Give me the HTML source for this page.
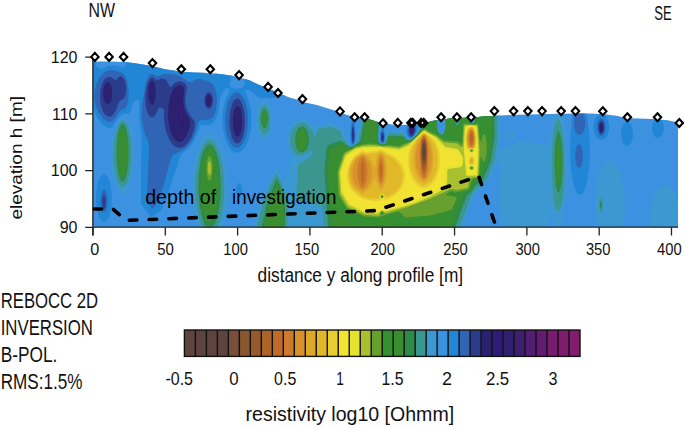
<!DOCTYPE html>
<html><head><meta charset="utf-8"><style>
html,body{margin:0;padding:0;background:#fff;}
body{width:685px;height:428px;overflow:hidden;}
svg{display:block;font-family:"Liberation Sans",sans-serif;}
</style></head><body>
<svg width="685" height="428" viewBox="0 0 685 428">
<rect width="685" height="428" fill="#fff"/>
<defs><clipPath id="pc"><path d="M93,61.4 L93.0,61.4 L110.0,61.4 L125.0,62.0 L135.0,63.2 L152.0,66.1 L165.0,69.2 L175.0,70.8 L182.0,71.8 L193.0,72.5 L210.0,73.1 L222.0,74.3 L234.0,76.0 L245.0,78.9 L250.0,80.5 L260.0,85.3 L273.0,90.4 L283.0,95.0 L291.0,98.1 L297.0,99.6 L305.0,102.4 L317.0,104.9 L328.0,108.4 L338.0,111.4 L347.0,114.9 L359.0,117.8 L370.0,119.5 L380.0,122.8 L386.0,123.8 L397.0,125.0 L420.0,124.5 L432.0,121.0 L450.0,118.4 L471.0,117.5 L485.0,116.6 L500.0,115.4 L518.0,114.8 L561.0,113.7 L590.0,113.6 L603.0,114.0 L618.0,116.1 L627.0,118.2 L638.0,118.6 L652.0,118.9 L668.0,120.3 L678.0,122.5 L678,227.3 L93,227.3 Z"/></clipPath></defs><g clip-path="url(#pc)"><rect x="88" y="52" width="594" height="180" fill="#3c92e0"/><path fill="#2286d6" d="M88 52L300 52L300 92L285 96L276 97.6L271 98.2L265 97.8L262 98.3L259 97.6L256.1 96L250 90.1L247 90L245 90.8L244.9 92L247.7 98L249.1 102L250.7 109L251.5 119L251 129L249.1 138L247.7 142L245.7 146L242 150.7L239 152.5L237 152.8L235 152.5L233 151.6L231 149.9L228.8 147L225.5 140L223.3 131L222.5 125L222.3 119L223.3 108L225.7 99L230 90L229 88.7L226 88.1L222 93.5L220 97.4L218.4 111L217.4 115L215.2 120L213 122.9L210 124.8L207 125.4L202 124.8L201 125L200 126L196.7 135L192.6 143L188.7 148L182 153.6L180.3 156L169 190L161 211L151 217L141 204L141 175L141.6 140L141.3 134L138.9 116L139.4 101L139 100.3L136 100.4L134 101.4L133 103L131.1 110L129.4 113L128 113.8L123 114.2L121 115.2L118.4 118L113 125.7L111 127.7L109 128.2L107 127.7L105 126.6L102 124.2L98.6 120L95.8 115L93.6 109L91.9 102L91 100.9L88 100.1ZM105 55L102 55.9L99 57.6L97.4 59L96.1 61L95.6 63L96.1 65L97.5 67L99 68.2L102 68.9L108 66.1L112 65.3L116 65.7L122 67.5L124 66.9L125.8 65L126.3 63L125.4 60L123.5 58L121 56.4L118 55.3L114 54.5L109 54.4ZM178 66.6L176.1 68L175.6 69L176 70.4L178 71.8L181 72.9L183 73.2L185 72.7L186.7 71L186.8 69L184.9 67L181 66ZM207 68.6L205 69.9L204.4 71L204.6 73L206 74.1L208.9 75L212 75.3L214 74.8L215.8 73L215.8 71L213.9 69L210 68ZM236 73.9L233 74.9L230.8 77L230.6 78L231.1 80L229.5 83L229.4 85L231 87.4L233 88.3L237 88.7L241 88.1L243 87L244.5 85L244.7 84L244 81L245.2 79L245.2 77L244 75.6L242 74.5L239 73.8ZM579 104L581 104.1L583 105.7L585.4 110L586.7 114L587.7 119L589.1 131L590 148L589.3 166L587.2 181L586 186L584 191.2L582 194.1L580 195L578 194.1L576 191.2L574.3 187L573 182.1L571 169L570.1 152L570.5 136L571.5 122L572.3 116L573.4 112L575 108.2L577 105.3ZM600.3 114L602 113.9L604 114.7L606.4 117L608.4 121L609.3 126L608.9 131L607.1 136L605.6 138L604 139.3L601 140.1L598 138.9L595.5 136L593.9 132L593.3 128L593.7 123L595 119L597 116L599 114.4ZM352.6 118L353 117.4L354 119L354.7 122L355.5 129L355.6 137L355.4 140L354.6 143L353 145L352 145L351.3 144L350.6 141L350.4 132L351.3 122L352 118.9ZM655.4 119L658 118L660 118.6L662.3 121L663.7 125L664 129L663.2 133L661.6 136L659 137.9L657 137.9L655 136.7L653.2 134L652.3 131L652 128L652.5 124L653.7 121ZM410.9 121L412 120.8L414 121.7L417 126.1L419.3 124L421 123.7L422.1 124L422.9 125L423 126L422.5 127L421 128.1L419 128.1L418 127.5L417.5 128L416.6 132L414.8 135L412 137.8L410 138.4L408.9 138L407.3 136L406.3 133L406.2 130L406.4 128L407.4 125L409 122.5ZM624.6 123L627 122L629 122.7L630 123.6L632 127.4L632.9 132L632.8 137L631.5 142L629.4 145L627 146L625 145.3L623 142.9L621.8 140L621.1 136L621.1 132L621.8 128L623 125.1ZM381.6 129L382 128.3L383 128.1L383.7 129L384.9 134L384.7 141L384 142.6L383 143.3L382 143.2L381 142.4L380.1 140L380.3 133ZM101.8 175L103 174.2L105 174.2L107 175.9L108 177.6L109.4 181L110.7 186L111.9 196L111.5 206L110 213.9L108.4 218L107 220.3L106 221.3L104 222.1L102 221.3L101 220.3L98.7 216L96.9 209L96.1 201L96.2 193L97.3 185L99 179.3L100 177.2ZM237.5 184L239 183L240 183.4L241.1 185L241.9 188L242 191L241.4 194L240 196.6L239 197L238 196.6L237 195.2L236.1 192L236.3 187Z"/><path fill="#3064b4" d="M107.2 71L111 70.2L114 70.5L121 72.4L123 73.6L125.5 77L126.7 80L127.7 84L128.6 91L128.6 96L128.1 101L127.1 105L126 107.3L125 108.4L122 109.7L120 111L114 119.7L112 121.3L110 121.8L107 121.2L104 119.4L101.6 117L99 113.3L96 105.9L95 101.4L94.5 97L94.7 92L95.3 88L96.4 84L98 80.2L99.9 77L102.3 74L104.9 72ZM150.9 74L153 73.9L156 76.1L157 76.4L164 74.3L170 74L174 74.4L178 75.5L182 77.2L189 82.1L191 81.9L196 79.4L199 79L202 79.4L210 81.7L213 84.3L215 88.2L216.5 94L216.9 100L216 109.6L215 113.1L213 117L212 118.1L210 119.4L204 119.8L200 120.6L199 121.2L198 123L196.3 130L194.5 135L192.1 140L189.5 144L187 146.8L184 149.2L179 152.2L174 154L172 155.8L170.5 160L164 184L158 203L152 209L147 199L149 150L148.9 145L148 141.1L144.9 134L143.4 129L142 121L141.5 114L142 105.7L145.5 84L147.5 78L149 75.6ZM234.7 93L237 92.6L239 93.1L241 94.7L243.4 98L245.2 102L246.4 106L247.4 111L247.9 117L247.5 128L246.4 134L245.3 138L243.6 142L241.6 145L239 147.3L237 147.8L235 147.5L233 146.2L231 143.9L229 140.4L227 134.9L226 130.4L225.2 122L225.8 111L227.6 103L229 99.5L231 96.1L233 94ZM578.4 110L580 109.7L581 110.1L583 112.3L584.4 116L585.3 121L585.1 126L584 130.5L582 133.8L580 135L578 134.6L576 132.5L574.6 129L573.9 125L574 119.2L574.9 115L576.3 112ZM599.7 119L601 118.3L602 118.4L603 119.1L604.8 122L605.6 126L605.4 130L604.5 133L603 135.4L601 136.1L600 135.7L598.5 134L597.4 131L597.1 129L597.5 123L598.2 121ZM352.7 123L353 122.4L354.1 125L354.8 134L354.5 141L354 142.9L353 144.1L352 143.6L351.8 143L351.2 136L351.6 127L352 124.5ZM410.3 123L412 122.3L414 123.3L415.6 126L416.2 129L415.8 132L414.8 134L413 136.3L411 137.4L410 137.2L408.7 136L407.9 134L407.5 131L408.3 126ZM419.5 125L421 124.6L421.6 125L421.6 126L421 126.8L419.8 127L419 126ZM381.7 131L382 130.5L383 130.5L384.4 135L384.4 140L384 141.6L383 142.7L382 142.6L381.4 142L380.7 140L380.6 135ZM579 144L580 144.4L581 145.6L582 148.1L582.7 152L583 156L582.7 160L582 163.9L581 166.4L580 167.6L579 168L578 167.6L577 166.4L576 163.9L575 156L575.3 152L576 148.1L577 145.6L578 144.4ZM103.5 190L104 189.8L105 190.3L106.1 192L107.2 196L107.5 200L107.3 205L106.5 209L105 212L104 212.6L103 212L101.5 209L100.5 202L100.6 198L101.3 194L102 191.8Z"/><path fill="#2c3c8c" d="M108.1 77L111 77.2L115 80.1L116 80.3L119 76.7L120 76.3L122 76.7L124 78.9L125 81L126 85.2L126.2 88L125.9 93L125.1 96L124.1 98L123 99.3L120 100.6L119 101.7L116.1 110L113 114.8L111 116.4L109 116.7L106 115.4L104 113.2L102.8 111L100.8 105L100 98L100.5 90L102.1 84L103.5 81L105 79L107 77.4ZM150.5 78L152 77.3L153 77.6L156 80.1L157 80.4L161 78.5L164 78.7L165.9 80L167 81.3L170 87.1L171 86.9L174 83.8L176 82.3L179 81.3L181 81.5L183 82.2L185 83.6L186.2 85L186.7 88L185.1 100L186 106.9L188.1 112L192 118.3L194.5 121L195.1 124L194 130.2L191 138.1L187 144L183 147L181 147.7L179 147.9L176 147.1L174 145.7L172 143.7L169 139L166.6 133L164.9 126L164.1 119L163.9 110L163 108.4L160 107.8L158.8 108L158 108.9L155.3 115L153 117.3L151 117.3L150 116.7L148 113.8L146.9 111L145.7 106L145.3 97L146 90.7L147.1 85L148.5 81ZM207 93L208 92.3L210 92.6L211.9 95L212.8 98L212.9 102L212.3 105L211 107.4L209 108.7L208 108.6L206.1 107L205.1 105L204.4 102L204.8 97L205.5 95ZM235.6 99L237 98.5L239 99.1L240.7 101L242 103.3L244.2 111L245 119L244.6 128L243 135.9L241.8 139L240 141.9L238.5 143L237 143.3L235.8 143L234 141.4L231.7 137L230 129.6L229.4 123L229.7 115L230.8 108L233 102L234 100.5ZM600.4 121L601 120.7L602 120.8L603 121.8L603.9 124L604.3 127L604.1 130L603.5 132L602 134L601 134.1L600 133.5L599.1 132L598.3 128L598.7 124L599.5 122ZM410.6 124L412 123.4L413.4 124L414.7 126L415.3 129L415.1 131L414 134L412.1 136L411 136.2L409.6 135L408.6 131L409 127ZM353 126L354 129L354.3 135L354 140.5L353 142.7L352 140.7L351.7 135L352 129ZM381.8 133L382 132.5L383 132.5L383.9 136L383.9 139L383 141.8L382 141.7L381.1 139L381.1 136ZM103.2 196L104 195.1L105 196.2L105.8 200L105.5 206L105 207.6L104 208.7L103 207.6L102.3 204L102.3 199Z"/><path fill="#2c2070" d="M151.2 81L152 80.7L153 81L154 82.3L155.2 86L155.7 91L155.6 96L155 100L154 103.1L153 104.5L152 105L151 104.5L149.6 102L148.8 99L148.3 94L148.4 90L149 85.4L150 82.5ZM106 83L108 82.2L110 83.5L111.2 86L112.2 91L112.1 96L111.2 100L110 102.5L108 104L107 103.9L106 103.2L105 101.9L103.8 99L103.3 96L103.2 92L103.7 88L104.7 85ZM177 86L179 85.3L181 85.5L183 86.8L183.8 88L184.1 90L183.1 99L184 107.4L185.3 112L189.1 118L190.2 121L190.1 124L189.4 128L187 135.1L184 139.7L182 141.3L180 141.9L178 141.7L176 140.6L174 138.5L172 135L169.6 128L168.7 123L168.1 117L168.3 107L169.9 98L171 94.4L173 90.2L175 87.6ZM207.4 95L209 94.4L210 94.9L211 96.4L211.6 99L211.6 102L211 104.6L210 106.1L209 106.6L208 106.5L207 105.6L205.9 103L205.9 98ZM237 106L238 105.9L239 106.5L240.5 109L241.6 113L242.3 119L242.3 125L241.3 131L240 134.6L239 136.1L238 136.7L237 136.6L236 135.9L234.9 134L233.6 130L232.8 123L232.9 118L233.8 112L235 108.3L236 106.7ZM600.9 123L602 123.1L603 124.9L603.2 127L603 130L602 131.8L601 132.1L600 131L599.4 128L600 124ZM411.7 125L413 125.4L413.9 127L414.2 130L414 131.3L413 133.3L412 134.2L411 134.2L410 132.8L409.7 129L410 127L411 125.4ZM353 131L353.4 135L353 139.1L352.6 135ZM382 136L382 135.7L383 135.7L383 139.6L382 139.4Z"/><path fill="#2c1e78" d="M180.6 99L181 98.7L182.2 102L183.5 114L183.4 119L182.7 124L182 126.7L181 127.9L180 126.7L179.3 124L178.4 114L178.5 108L179.2 103L179.9 100Z"/><path fill="#301e70" d="M180.7 103L181 102.5L182 105.2L182.7 113L182.2 121L181 124L179.8 121L179.3 114L179.6 106L180 104.1Z"/><path fill="#3e1e6e" d="M180.9 107L181 106.7L182 111L182.1 113L182 116.3L181 120.1L180 116.5L179.9 114L180 109.8Z"/><path fill="#3c98d0" d="M262 102L265 101.2L267 101.8L268.5 103L270.2 106L271.3 109L272.5 116L272.5 124L271.3 131L270.2 134L268.6 137L267 138.7L265 139.7L263 139.4L262 138.7L259.8 136L257.5 130L256.5 124L256.4 117L257.5 110L259.3 105L260.7 103ZM495.7 103L499 103.2L499.8 104L500.1 105L500.1 140L499.6 146L500 148.3L501 148.8L505 147.6L510 145.2L513 143.2L516 142.3L520 140.5L545 144.9L548 144.7L549 143.7L549.4 142L551.6 123L554.1 111L555.7 107L557 105.3L558 105L559 105.3L560.3 107L561.9 111L563.2 116L565.4 131L566.6 150L566.9 174L566.3 191L564.4 209L562 220.7L560.8 224L559 226.7L558 227.1L557 226.8L555 224.1L552.5 217L551 211L550 209.3L549.6 227L549 227.6L501 227.5L500.4 227L499.6 168L499 161.8L498 160.9L495 166.2L488.9 181L475 193.5L463 225.8L461.2 232L252.3 232L260.6 199L275 168.7L276 168.3L277.3 169L283 179.8L284 181.1L285 180.9L287 175.1L292.2 156L289.6 150L288.3 145L287.9 140L288.5 134L289.6 130L291.6 126L294 123L297 120.7L301 119.4L305 119.8L308 121.3L313 126.1L314 126.4L330 123L343 128.4L344.1 130L344.6 135L345.2 137L349 142L350.7 145L352 145.8L353 145.6L355.5 143L357.3 139L358.7 126L362 109L363 107.9L367 106.6L377 106.6L380 107.7L381.1 109L381.4 110L381.7 123L379.6 132L379.2 137L379.4 140L380.1 142L381 143.1L383 143.7L384.4 143L385.4 141L386 132.2L387 130.8L402 131L403 131.4L404 132.4L406.4 137L408.5 139L411 139L413.7 137L416.9 133L419 129.1L422.2 128L423.1 127L423.4 126L423 124.3L422 123.5L420 123.2L418 123.8L417 123.1L415.4 120L415.4 117L417.6 110L418.9 108L420 107.5L424 106.4ZM440 118.8L439 120.4L438.6 122L438.5 127L439 129.5L440 131.1L441 131.7L442 131.6L443 130.7L444 128.4L444.1 122L443 119.2L442 118.3L441 118.1ZM472 117.9L471 118.8L471 120.5L472 121.1L473 121L473.1 119ZM121.4 118L123 117.3L125.1 118L128.4 121L130.6 125L132.3 131L133.4 137L134.5 151L134.4 160L133.7 168L131.6 180L129.7 186L127.7 190L125 193.4L123 194.3L121 193.9L118.9 192L116.5 188L114.6 183L112.8 176L111.6 169L110.7 156L111.3 142L112.6 134L114.5 129L117.4 123L119.4 120ZM512 129L513 129.3L514.2 131L515 135L514.7 138L514 140.3L513 141.8L512 141.9L511 141.2L510 139.7L509 135L509.8 131L511 129.3ZM208.9 133L212 133.2L214 134.4L217 137.8L219.5 142L221.6 147L223.5 153L225.3 161L226.6 169L227.4 178L227.7 187L227.5 196L226.8 205L224.5 219L222.6 226L220.3 232L199.6 232L197.4 226L195.7 220L193.4 207L192.4 195L192.4 182L193.4 169L195.2 158L197.6 149L201.4 140L205 135.1L207 133.7ZM606.9 161L609 160.1L612 160.4L614 161.6L616 163.8L618 166.9L620 171.5L622.7 181L624.5 193L625 207L624.1 220L622 232L598 232L597.3 229L595.7 219L595.1 209L595.2 198L596.1 188L597.8 179L600.2 171L603 165.2L605 162.6ZM665 185L667 185.3L669 186.1L672.5 189L675.7 194L678 200L679.5 207L680 214L679.6 222L678.3 229L677.4 232L652.6 232L650.9 225L650 217L650.3 209L651.7 201L654 194.6L657 189.6L659 187.5L661 186.1L663 185.3Z"/><path fill="#3c9690" d="M262.6 106L264 105.2L265 105.2L266 105.7L267.3 107L269.2 111L270.3 117L270.2 124L269.1 129L267 133.1L265 134.4L263 134L261 131.7L259.6 128L258.7 123L258.6 118L259.3 113L261 108ZM475.9 106L491 105.2L497 105.6L497.4 106L497.4 140L494.3 160L486.8 179L486.2 180L475 189.9L473.2 192L471.5 195L459.7 227L458.4 232L324.1 232L322.9 211L322.5 208L321.7 206L320 205.1L318 205.1L296 200L298 165L312 155.2L312.9 151L312 150.5L304 154.7L300 155.5L298 155.3L296 154.6L294 152.8L292.8 151L291 146.6L290.3 143L290.1 139L290.7 135L291.8 131L293 128.6L295 125.9L298 123.5L300 122.7L303 122.5L305 123L308 124.9L311.3 129L315 137.4L316 135.6L317.2 130L317.7 129L330 126.4L331.6 127L340.5 131L341.7 136L343.3 139L349.9 146L352 146.5L353 146.1L356.7 143L358.8 140L364 111L364.8 110L368 108.4L377 108.6L379 110L379.5 118L379.6 126L378.3 136L378.7 140L379.3 142L380.1 143L381.8 144L383 144.2L385 143.2L385.9 142L387.3 135L388 133.6L389 133.3L402 133.6L403 134.1L406.9 139L409 140L411 139.6L413 138.2L416.8 134L419.3 130L422.8 128L423.5 127L423.8 126L423.2 124L421 122.7L419 122.7L418 122.2L417.4 120L420 110.7L423 108.5ZM440 116.5L439 117.6L437.9 120L437.4 124L437.4 127L438 130L439 132.2L440 133.3L441 133.8L442 133.7L443 133.1L444 131.6L445 128.6L445.1 122L444 118.3L443 116.9L442 116.2L441 116ZM457 119.8L456 121L455.9 122L456 123L457 124.2L458 123L458.1 122L458 121ZM472 115.9L471 116.4L470 117.9L469.7 121L470.1 122L473 122.5L474.1 122L474.3 119L473 116.4ZM557 120L558 119.3L559 119.7L560 121.1L562 128.1L564 144L564.7 163L564.3 182L563 196.5L561 206.8L560 209.4L559 210.9L558 211.3L557 210.6L556 208.8L554 200.8L552.4 185L551.8 168L552 150.5L553 135.7L555 124.8ZM121.4 121L123 120.4L125 121.7L126.5 124L127.8 127L129.5 133L130.6 139L131.7 152L131.1 165L129.4 175L127.9 180L126.1 184L124.7 186L123 187.1L121.8 187L120 185.5L118.1 182L116.6 178L114.5 168L113.5 157L113.8 145L115.3 135L118.2 126L120 122.5ZM207.9 140L210 139.6L213 141L215.4 144L217.5 148L219.8 154L221.6 161L223 168.3L224 177L224.3 194L222.7 209L221 217L219.2 223L217 228L214.3 232L205.2 232L203 228.7L200.5 223L198.3 215L196.8 207L195.8 198L195.5 188L195.7 179L196.6 170L198.1 161L200.1 153L202.4 147L205 142.6ZM275.9 174L276 173.7L279 178L281.7 184L284.7 192L286.4 199L287.2 205L287.5 212L287.2 232L255.6 232L263.4 201L273.2 179ZM600.4 198L601 197.3L602 198.4L602.9 203L602.6 210L602 211.6L601 212.7L599.8 211L599.1 207L599.3 201Z"/><path fill="#2e8a48" d="M485.2 107L492 107L494 109L494.1 110L494.7 135L494.2 140L490.9 160L486.8 171L483.4 178L481 181L475 186.1L471.4 192L467.6 195L466.2 197L456 225L454 232L328.5 232L324.3 170L326.4 148L328 145.3L339 140.9L342 141.4L347.6 146L350 147.2L353 146.6L359.5 142L360.2 141L360.8 139L365.6 113L367.4 110L368 109.6L376 109.6L377.2 111L377.5 112L378.3 125L377.5 136L377.7 139L378.5 142L379.3 143L381 144.1L383 144.5L384.8 144L386.1 143L388 137L389 135.9L390 135.7L402 136L404 137.1L407 140L409 140.6L411 140.1L413 138.7L418.3 133L420.1 130L423 128.2L423.9 127L424.3 126L423.7 124L422 122.5L420 122L419.3 121L419.9 118L421.7 112L424 109.5ZM441 114.7L439 116.1L437.9 118L436.9 122L436.7 126L437.3 130L438.6 133L440 134.4L442 135L443 134.5L444 133.3L445 131L445.7 128L445.9 124L445.3 120L444.2 117L443 115.5ZM456 118.9L455.3 121L455.3 123L455.9 125L457 125.7L458 125.1L458.5 124L458.7 121L458 118.9L457 118.3ZM472 114.8L471 115.1L469.6 117L469 121L469.3 122L470 122.8L474 123L474.8 122L475.1 121L474.7 118L473.8 116L473 115.1ZM263.1 110L264 109.3L265 109.3L266 110.1L267.4 113L267.9 116L268.1 120L267.5 124L266.2 127L265 128.1L264 128.1L262.8 127L261.8 125L261.1 122L260.9 119L261.2 115L262 112ZM121.9 124L123 123.8L124 124.5L125 126L126.5 130L127.7 137L128.6 149L128.4 160L127.3 171L125.5 178L124 180.8L123 181.6L122 181.5L120.6 180L118.5 174L117.4 167L116.6 155L116.8 145L117.7 135L119.4 128L120.9 125ZM300.1 127L302 126.5L303 126.6L305 127.8L306 129L307.6 132L308.8 138L308.5 144L307.4 148L305 151L302 152.4L299.6 152L297.4 150L295.9 146L295.2 142L295.4 136L296.4 132L298 129ZM557.8 132L558 131.7L559.1 132L560 133.8L560.9 138L561.9 146L562.5 158L562.4 171L561.6 182L560.4 189L559 192.6L558 192.6L557 190.5L555.9 185L554.5 166L554.6 154L555.5 142L556.6 135ZM207.5 145L209 144.2L210 144.2L212 145.2L214.1 148L216.4 153L218.3 160L219.4 166L220.6 181L220.4 197L219.4 206L218.2 213L216.6 219L214.5 224L212 227.3L210 228.3L208 227.9L206 226.2L204 222.8L202.2 218L199.7 206L198.4 191L198.7 176L200.4 162L201.8 156L203.5 151L205.6 147ZM276.9 179L278 180L282.2 191L284.6 201L285.1 210L284.6 232L260.3 232L266.5 205L275.7 180L276 179.4ZM600.9 201L601.9 203L602 205L601.9 207L601 209.2L600.2 207L600 205L600.2 203Z"/><path fill="#3a8e30" d="M473.3 109L490 108.4L490.8 109L491.9 135L488.4 160L486 166.6L482 173.5L480.2 179L476.6 181L474 183.4L473 185L471.3 190L470.5 191L465 192.9L462.9 195L453.7 220L450 232L331.6 232L328 170L330 150L342 144.1L347 147.6L350 148.1L353 147.1L355 145.5L361 142.8L362.3 141L362.9 139L367.5 114L368.7 111L375.2 111L376 114L376.8 127L376.5 137L377.3 141L377.6 142L379 143.5L381 144.5L383 144.9L385.9 144L387 143L388.6 139L390 138.1L402 138.2L404 138.8L407 140.9L409 141.2L411 140.6L413 139.2L419 133L420.8 130L423 128.6L424.4 127L424.6 125L424.2 124L421.4 121L423.1 114L424 111.9L425 110.8ZM440 113.6L438 116L436.5 120L436.1 124L436.2 128L436.8 131L438.4 134L440 135.5L442 136.1L443 135.8L444 134.9L445.6 132L446.5 128L446.6 123L445.6 118L444 115L442 113.3ZM456 117.5L454.7 120L454.5 123L455.6 126L457 126.9L458 126.5L458.9 125L459.5 123L459.5 121L458.9 119L458 117.5L457 117.1ZM471 113.7L469.7 115L468.8 117L468.3 120L468.5 122L470 123.3L474 123.5L474.9 123L475.6 122L475.8 120L475.2 117L474.3 115L473 113.7L472 113.4ZM263.6 113L264 112.6L265 112.6L265.4 113L266 114L266.7 117L266.4 122L266 123.3L265 124.6L264 124.6L263 123.3L262.3 120L262.5 116L263 113.9ZM121.4 129L122 128.3L123 128.2L124 129.2L125 131.4L126.4 138L127.2 148L127.1 159L126.1 168L125 172.8L124 175.1L123 176.1L122 176L121 174.7L120 172L118.8 166L118 156L118 147.4L118.8 138L120 132.1ZM300.8 130L303 129.9L305 131.6L306.2 134L307 138L307 142.2L306 146.2L304 149L302 149.8L300 149.2L299 148.3L297.8 146L296.9 142L297 137.4L297.8 134L299 131.6ZM558 141L559 140.9L560 143.9L561.2 157L561 171.5L560 180.1L559 183L558 182.9L557 179.6L555.9 167L556 153.9L557 144.2ZM207.9 149L209 148.3L210 148.3L211.2 149L213 151.5L215 156.3L217 164L217.7 169L218.8 182L218.5 196L217 207.8L216 212.2L214 217.9L212 221L210 222.3L208 221.9L206 219.7L204 215.4L203 212.1L201 201.2L200.2 190L200.6 176L202 164.3L204.9 154L206.3 151ZM276.7 184L277 183.1L280 190.6L282 197.1L282.8 202L283 211L282.4 232L262.8 232L269 205.1Z"/><path fill="#349030" d="M484 115L485 116.6L486 120.2L487.5 128L488.4 135L487.8 153L487.1 159L486 162.7L485 164.8L484 166.1L482 167.7L481.4 169L479.7 178L479 178.8L474.5 180L473.5 181L471.5 185L470 190.2L464 191.7L460.8 194L459.7 198L454 212L439 227.9L432 228.9L405 229.9L398 229L391 226.5L389 226.1L379 227.4L369 227L362 227.2L348 223.4L343 217.3L340.5 213L334.7 196L333.4 172L336.9 155L341 150L342 149.6L349 149L352 148.2L355.1 146L363.2 143L370 138.2L371 138.1L378.5 144L383 145.4L386 144.7L390 142.2L398 142.7L404 141.5L408 141.9L410 141.6L414 138.7L419 133.6L421.6 130L424.3 128L425.6 126L425.7 125L424.8 122L424.9 121L426 120L427 119.7L431 120.2L431.6 121L434.5 130L438.2 135L440 136.5L442 137.5L445 137.6L447.7 136L451 132.4L452 132.1L456 133.9L457 133.8L458 132.9L460 128.3L461 122.7L462 119.8L463 118.4L464 118.4L465 119.2L467.1 122L469 123.4L474 124L475.9 123L477.8 121L478.6 120L479.8 117L480.7 116ZM208.2 153L209 152.3L210 152.3L211 153.2L212 155L213.4 160L214.2 167L214.2 173L213.4 180L211.9 185L211 186.7L210 187.5L209 187.5L208 186.7L206.6 184L205.4 179L204.8 173L204.8 168L205.4 161L206.6 156Z"/><path fill="#68a030" d="M463.3 124L464 123.6L467 123.6L470 124.3L474 124.5L477 123.7L478 123.6L478.4 124L480 140.4L481 141.5L482.5 136L483 134.8L484 134L485 134.8L486 137.7L486.9 147L486.2 156L485 160.4L484 161.5L483 161L481 156.6L480.1 163L479 177.2L478.3 178L474 178.5L472 179.6L469 189.3L455 192.7L453 191.6L451 191.2L449.2 192L446.3 194L446.3 195L447 195.3L456 197L457 197.7L452 209.1L451 209.9L430 215.6L406 217.6L405 217.5L402 214L400 212.3L399 211.7L397 211.7L392 213L378 217.4L364 216.5L346.4 208L338.5 195L337.3 172L342.7 155L344 152.4L347 150.7L352 148.8L355 146.8L356.9 146L364 144.2L369 143.6L376 143.9L383 145.8L389 144.9L399 146.3L405 143.5L411 141.6L414 139.2L419.2 134L422 130.4L425 128.6L428.2 131L436 134.4L440 137.7L444 140.4L458 141.6L461 144L462 143.3L462.2 142ZM471 149.9L470.9 151L472.2 151L472.1 150ZM382 195.8L381.3 196L381.1 197L382 197.4L382.9 197L382.7 196ZM471 167.2L470.6 168L471 168.8L472 168.8L472.4 168L472 167.2ZM382 211.8L381 212.1L380.7 213L381 214.2L382 214.7L383 214.5L383.4 213L383 212ZM209 156L210 156L211.3 158L212.2 162L212.6 166L212.1 175L211.1 179L210 180.5L209 180.5L207.6 178L206.7 174L206.4 170L206.9 161L208 157.3Z"/><path fill="#a8c030" d="M464.6 125L468 124.7L477.2 125L477.8 127L479.6 150L478.4 175L478 177L472 177.6L469.9 179L468 187.3L467.4 188L456 190.1L453 189.1L450 189.3L447 191.1L429 199.2L407 207.3L386 213.3L385 213.5L383 211.3L382 211.1L381 211.4L379.8 213L379.9 215L378 215.7L364 214.7L348 207.2L347 206L340 194L338.6 172L344.2 155L345.8 153L356 147.2L363 145.6L371 145L377 145.4L383 146.5L388 146.2L399 147.8L411 142.2L418.8 135L422 131.4L424 130L425 130.1L428 132.2L436 136L444 142.2L457 143.4L461 146.7L462 147L463 145L463.9 127ZM471 149.5L470.2 150L470.1 151L471 151.8L472 151.8L473 151L472.9 150L472 149.5ZM381 195.6L380.6 197L381 197.7L382 198.2L383 197.7L383.4 197L383 195.6L382 195.1ZM471 166.6L470.2 167L469.7 168L470.1 169L472 169.5L472.9 169L473.3 168L472.8 167ZM208.9 161L210 160.8L211.2 165L211.1 172L210 175.3L209 175.3L207.8 171L207.9 164Z"/><path fill="#e4e430" d="M467.3 126L470 125.3L472 125.3L476 126.3L476.8 127L478.4 150L477.4 175L477 175.6L467 175.8L466.2 175L463.7 150L465 127L466 126.3ZM470 149.7L469.6 151L471 152.3L472 152.4L473.5 151L473.4 150L472 149L471 149.1ZM470 166.5L469.2 168L470 169.5L472 170L473.5 169L473.8 168L473 166.5L472 166.1ZM422.3 132L424 131L425 131.2L435 137L437 138.5L445.7 147L457.1 149L458 149.6L460.5 153L463.3 158L462.7 165L461 167L459 167.6L448 169.1L447.3 170L447.2 182L446.5 185L445 188.1L441 190.7L429 197L416 202.4L407 205.6L386 211.5L385 211.6L382 210.5L381 210.7L379.4 212L379 212.9L378 213.4L364 212.4L349 205L347.5 203L341.3 192L340 173L340 172L341 168.9L345.4 156L346 155.1L355 148.9L363 147.1L370 146.7L381 146.9L399 149.3L408 145.7ZM382 194.7L381 195.1L380.3 196L380.2 197L381 198.3L382 198.5L383 198.3L383.8 197L383.7 196L383 195Z"/><path fill="#f2e232" d="M469.8 126L472.5 126L475.8 128L476.7 134L477 150L476 173.9L475.2 174L468 174L467.8 173L467.6 168L467 165.1L465.4 150L465.2 137L466.2 128ZM471 148.8L469.3 150L469.1 151L469.6 152L471 152.8L473 152.6L474.1 151L473.9 150L472.6 149ZM470 165.9L468.4 167L468.3 169L470 170.5L472 170.8L473 170.5L474.5 169L474.5 167L473.3 166L472 165.6ZM423.6 132L425 132.1L426 132.6L435.4 139L444 148.9L445 149.4L456 151.2L461 158L461 162L460 164L456.5 165L446 166.3L444.7 167L444.3 168L444.1 183L443.7 185L442.4 187L428.4 195L413.9 201L405.3 204L395 207L385 209.5L382 209.6L378 211.1L364 210L350 203L343.6 192L342 174.5L342 171.7L347.1 157L355.2 151L363 148.7L366 149L376 148.8L381 148.1L386 149.5L399 151.4L402 150.5L408 147.8L414.8 140L422 133ZM381 194.7L379.9 196L379.8 197L381 198.7L383 198.7L384.2 197L384.1 196L383 194.7Z"/><path fill="#e8cc30" d="M469.4 127L471 126.4L472 126.5L474.1 128L474.8 129L476.2 136L476.3 142L475.6 147L474.7 149L474 149.3L471 148.6L468 150.3L467.2 149L466.3 146L465.7 141L465.8 137L466.4 132L467.3 129ZM422.9 133L424 132.5L425.4 133L432.2 138L435.1 141L437.3 145L438.6 149L439.6 154L439.9 159L439.7 165L438.6 171L437.4 175L435.6 179L433 182.8L430 185.6L427 187.4L424 188.3L421 187.4L418 185.7L415 182.8L412.4 179L410.6 175L409.3 171L408.4 166L408.1 161L408.6 153L409.3 150L410.5 147L414.7 141ZM379 150L381 149.4L382 149.7L386 152.3L392 155.2L397 158.7L400.1 162L402.7 166L404.5 171L405.1 176L404.2 182L401.5 188L398.3 192L394 195.6L389 198.3L384 199.8L383.7 199L384.4 198L384.6 196L383 194.3L382 194.1L381 194.3L379.5 196L379.8 198L381 199.5L383 200L381 200.5L377 200.9L372 200.7L363 198.7L358 195.7L354 192.5L350.4 188L348.8 185L347.4 181L346.8 176L347.3 171L348.3 167L350.4 162L353.8 157L357 154.2L362 150.8L363 150.7L366 152L367 152L376 151ZM470 157L471 156.2L472 156.2L473 157L474.2 159L474.4 162L473.8 164L472.6 165L470 164.8L468.8 163L468.6 160Z"/><path fill="#e0b828" d="M469.2 128L471 127L472 127.2L473.9 129L475.4 134L475.8 140L475.5 144L474.2 148L473 148.4L471 148.3L469 149.1L467.8 148L466.8 145L466.2 139L467.1 132L468 129.6ZM422.5 134L424 133.2L425.8 134L431 139L433.3 142L435 145.4L436.3 149L437.2 153L437.8 159L437 168.2L436 172L434 176.6L432 179.7L429.8 182L426 184.7L424 185.3L422 184.7L418 182L416 179.8L414 176.7L412 172.1L411 168.3L410.2 161L410.9 152L412.8 146L416.7 140ZM380.9 151L382 151.3L386 154.4L393.8 159L397 162L399.9 166L402 171L402.6 175L402.2 180L401 183.9L398 188.9L395 192L390.8 195L386.3 197L385.9 197L384 194.3L382 193.5L379.4 195L379 198.1L378 198.7L371 198.4L363 196.5L360.4 195L355 190.8L352.6 188L350.4 184L349.2 180L348.6 175L349.1 170L350.4 165L352.4 161L355 157.5L357 155.8L362 152.7L363 152.5L367 153.8L370 153.7L376 152.9ZM470.5 158L472 157.6L473 158.5L473.5 160L473.3 163L472 164.3L470.6 164L469.5 162L469.5 160Z"/><path fill="#dca82a" d="M470.5 128L472.1 128L473.1 129L474.1 131L475.2 136L475.3 141L474.4 146L473.2 148L469 148.2L468 146.7L467 143L466.8 137L468 131.3L469.3 129ZM423.6 134L425 134.2L426.7 136L430.8 143L432.6 149L433.4 158L432.6 167L430.6 174L428.6 178L427.1 180L425.2 182L424 182.5L422.6 182L420.5 180L418.1 177L416.5 174L414.4 167L413.6 158L414.3 150L416 144L418.1 140L422.2 135ZM379.4 153L381 152.4L382 152.8L384.1 155L385.5 158L386.5 163L386.9 169L386.6 176L385.5 182L384.2 186L382 189.8L381 190.4L380 189.8L377.4 185L375 176.6L372.7 183L370.4 187L368 189.7L364 192.9L363 193.4L362 193.2L357 190L355 188.2L352.7 185L351 181L350 176L350 172L350.8 167L351.9 164L354 160.3L356 157.9L361 154.4L363 153.8L365.8 155L369 157.2L371.7 161L374 166.5L375 166.7L376.8 157L377.6 155ZM471 159L472 159L472.6 160L472.8 161L472 163L471 163L470.4 162L470.2 161Z"/><path fill="#d8922c" d="M470.4 129L471 128.6L472 128.8L473 130L474.1 133L474.8 138L474.6 142L473.7 146L473 147.2L471 147.7L470 147.7L469 147L468 144.5L467.4 140L468 133.4L469 130.8ZM423 135L424 134.6L425 135L426.5 137L427.4 139L430 146.3L431 150.4L431.6 157L431.2 164L430 169.7L427.4 177L426 178.9L424 180.1L423 179.8L421.3 178L417.9 172L416 165.6L415.4 159L415.8 152L417 146.5L420.4 139ZM362 155L363 154.9L365 156L369 161L371 166L371.9 172L371.3 178L369.6 183L367 187L364.3 190L363 190.8L361 190.1L358.3 188L355 184.1L353 179.2L352.2 173L353 166L355 161.3L357.7 158ZM379.7 155L381 154L382 154.7L383 156.4L384.5 162L385.2 168L385 174.6L384.1 180L382.4 185L381 186.4L380 185.7L378.4 182L377.3 177L376.8 172L377.3 163L378.4 158Z"/><path fill="#cc7a2c" d="M470.6 130L471 129.7L472 129.9L473 131.4L473.9 135L474.1 138L473.9 142L473.2 145L472 147L471 147.1L470 146.3L469.3 145L468.4 139L469.1 133ZM422.9 136L424 135.4L425 135.9L426.6 139L427.7 144L428.3 153L427.8 167L426.7 174L425.9 177L425 178.1L424 178.4L423 178L422.3 177L421.3 174L420.3 168L419.7 158L419.7 151L420.3 143L421.3 139ZM361.4 157L363 156.4L364 157.2L365.1 159L366.7 164L367.5 170L367.4 175L366.7 180L365.1 185L364 187.2L363 188.1L362 188L361.1 187L359.5 184L358.2 180L357.3 174L357.4 169L358.2 164L359.5 160ZM380.7 157L381 156.8L382 157.8L382.6 160L383.6 169L382.8 179L382 182.2L381 183.3L380 182.2L379.4 180L378.4 171L379 162L379.9 158Z"/><path fill="#bf6a26" d="M470.5 132L471 131.2L472 131.4L473 133.7L473.4 137L473 142.7L472 145.1L471 145.2L470 143L469.5 139L469.7 135ZM423 137L424 136.3L425 137L425.9 139L426.8 143L427.5 151L427.4 160L426.7 168L425.2 174L424 175.5L423 174.5L421.7 170L420.5 157L420.6 149L421.2 143L421.7 140ZM362.4 161L363 160.7L364 163L364.7 170L364.3 179L364 181L363 183.3L362 182.8L361.5 181L360.7 174L361 165.3L362 161.2ZM380.8 162L381 161.5L382 163.8L382.3 169L382 176.2L381 178.5L380 176.2L379.7 171L380 164Z"/><path fill="#ac6428" d="M470.8 135L471 134.3L472 134.3L472.4 138L472 141.8L471 141.8L470.8 141L470.5 138ZM423.3 138L424 137.4L425 138.3L425.9 141L426.6 145L427 152L426.9 159L426.2 166L425 171L424 172L423 171L422 167.4L421 156L421.5 144L422.3 140Z"/><path fill="#985a2c" d="M423.6 139L424 138.6L425 139.7L425.7 142L426.3 146L426.7 152L426 163.5L425 167.7L424 168.8L423 167.7L422 163.5L421.3 154L421.9 144L422.9 140Z"/><path fill="#88562f" d="M423.9 140L425 141.2L425.5 143L426.3 152L425.8 161L425 164.6L424 165.9L423 164.6L422.4 162L421.7 153L422.3 144L423 141.2Z"/><path fill="#76503a" d="M423.5 142L424 141.4L425 142.8L426 151L425.5 159L425 161.6L424 163.1L422.9 161L422 153L422.4 146L423 142.8Z"/><path fill="#5e443e" d="M423.5 144L424 143L425 144.9L425.5 150L425 158L424 160.2L423 158.3L422.5 153L422.7 147Z"/><path fill="#5e443e" d="M424 146L425 151L424 156.5L423 151Z"/></g>
<path d="M93 209H113L126 220.4L376 210.6L478.7 176.2L496.5 228" fill="none" stroke="#000" stroke-width="3.6" stroke-linecap="round" stroke-dasharray="7.6 12.2" stroke-dashoffset="-1"/>
<g fill="#000" font-size="20">
<text x="145.2" y="204.4" textLength="71" lengthAdjust="spacingAndGlyphs">depth of</text>
<text x="232" y="204.2" textLength="104.5" lengthAdjust="spacingAndGlyphs">investigation</text>
</g>
<path d="M92.9 57.2V235.5M92.2 227.1H678" stroke="#222" stroke-width="1.4" fill="none"/>
<path d="M93.00 227.3V235.5M165.31 227.3V235.5M237.62 227.3V235.5M309.93 227.3V235.5M382.24 227.3V235.5M454.55 227.3V235.5M526.86 227.3V235.5M599.17 227.3V235.5M671.48 227.3V235.5M85.2 57.2H93M85.2 113.9H93M85.2 170.6H93M85.2 227.3H93" stroke="#222" stroke-width="1.3" fill="none"/>
<path d="M94.9 52.9L98.6 56.9L94.9 60.9L91.2 56.9ZM109.1 52.9L112.8 56.9L109.1 60.9L105.4 56.9ZM123.6 52.9L127.3 56.9L123.6 60.9L119.9 56.9ZM152.5 59.1L156.2 63.1L152.5 67.1L148.8 63.1ZM181.3 65.2L185.0 69.2L181.3 73.2L177.6 69.2ZM210.3 65.2L214.0 69.2L210.3 73.2L206.6 69.2ZM239.1 71.1L242.8 75.1L239.1 79.1L235.4 75.1ZM268.1 82.9L271.8 86.9L268.1 90.9L264.4 86.9ZM278.0 89.0L281.7 93.0L278.0 97.0L274.3 93.0ZM302.5 95.1L306.2 99.1L302.5 103.1L298.8 99.1ZM340.0 107.4L343.7 111.4L340.0 115.4L336.3 111.4ZM354.6 113.2L358.3 117.2L354.6 121.2L350.9 117.2ZM364.6 113.2L368.3 117.2L364.6 121.2L360.9 117.2ZM383.0 119.2L386.7 123.2L383.0 127.2L379.3 123.2ZM397.8 118.9L401.5 122.9L397.8 126.9L394.1 122.9ZM410.9 118.9L414.6 122.9L410.9 126.9L407.2 122.9ZM412.7 118.9L416.4 122.9L412.7 126.9L409.0 122.9ZM421.2 118.9L424.9 122.9L421.2 126.9L417.5 122.9ZM423.8 118.9L427.5 122.9L423.8 126.9L420.1 122.9ZM441.1 113.3L444.8 117.3L441.1 121.3L437.4 117.3ZM456.9 113.3L460.6 117.3L456.9 121.3L453.2 117.3ZM471.1 113.3L474.8 117.3L471.1 121.3L467.4 117.3ZM494.4 107.1L498.1 111.1L494.4 115.1L490.7 111.1ZM513.6 107.1L517.3 111.1L513.6 115.1L509.9 111.1ZM527.9 107.1L531.6 111.1L527.9 115.1L524.2 111.1ZM542.1 107.1L545.8 111.1L542.1 115.1L538.4 111.1ZM561.2 107.1L564.9 111.1L561.2 115.1L557.5 111.1ZM575.5 107.1L579.2 111.1L575.5 115.1L571.8 111.1ZM602.8 107.2L606.5 111.2L602.8 115.2L599.1 111.2ZM627.4 113.2L631.1 117.2L627.4 121.2L623.7 117.2ZM657.5 113.2L661.2 117.2L657.5 121.2L653.8 117.2ZM679.3 119.0L683.0 123.0L679.3 127.0L675.6 123.0Z" fill="#fff" stroke="#000" stroke-width="2.1" stroke-linejoin="miter"/>
<g fill="#111" font-size="16"><text x="94.85" y="255.3" text-anchor="middle" textLength="9.0" lengthAdjust="spacingAndGlyphs">0</text><text x="165.60" y="255.3" text-anchor="middle" textLength="16.6" lengthAdjust="spacingAndGlyphs">50</text><text x="235.60" y="255.3" text-anchor="middle" textLength="24.6" lengthAdjust="spacingAndGlyphs">100</text><text x="306.80" y="255.3" text-anchor="middle" textLength="24.6" lengthAdjust="spacingAndGlyphs">150</text><text x="382.70" y="255.3" text-anchor="middle" textLength="24.6" lengthAdjust="spacingAndGlyphs">200</text><text x="455.50" y="255.3" text-anchor="middle" textLength="24.6" lengthAdjust="spacingAndGlyphs">250</text><text x="527.70" y="255.3" text-anchor="middle" textLength="24.6" lengthAdjust="spacingAndGlyphs">300</text><text x="598.20" y="255.3" text-anchor="middle" textLength="24.6" lengthAdjust="spacingAndGlyphs">350</text><text x="669.30" y="255.3" text-anchor="middle" textLength="24.6" lengthAdjust="spacingAndGlyphs">400</text><text x="77.5" y="62.95" text-anchor="end">120</text><text x="77.5" y="119.65" text-anchor="end">110</text><text x="77.5" y="176.35" text-anchor="end">100</text><text x="77.5" y="233.05" text-anchor="end">90</text></g>
<g fill="#111">
<text x="88.5" y="17.0" font-size="20" textLength="26.5" lengthAdjust="spacingAndGlyphs">NW</text>
<text x="654.2" y="20.1" font-size="20" textLength="17.5" lengthAdjust="spacingAndGlyphs">SE</text>
<text x="257.6" y="281.6" font-size="20" textLength="205.5" lengthAdjust="spacingAndGlyphs">distance y along profile [m]</text>
<text transform="translate(22.0 219.6) rotate(-90)" x="0" y="0" font-size="17" textLength="123.6" lengthAdjust="spacingAndGlyphs">elevation h [m]</text>
<text x="0.7" y="307.9" font-size="22" textLength="97.5" lengthAdjust="spacingAndGlyphs">REBOCC 2D</text>
<text x="0.7" y="335.3" font-size="22" textLength="92.2" lengthAdjust="spacingAndGlyphs">INVERSION</text>
<text x="0.7" y="362.1" font-size="22" textLength="56.6" lengthAdjust="spacingAndGlyphs">B-POL.</text>
<text x="0.7" y="389.4" font-size="22" textLength="81.8" lengthAdjust="spacingAndGlyphs">RMS:1.5%</text>
</g>
<rect x="184.40" y="330.0" width="10.99" height="26.4" fill="#5e443e"/><rect x="195.39" y="330.0" width="10.99" height="26.4" fill="#5e443e"/><rect x="206.38" y="330.0" width="10.99" height="26.4" fill="#5e443e"/><rect x="217.37" y="330.0" width="10.99" height="26.4" fill="#5e443e"/><rect x="228.36" y="330.0" width="10.99" height="26.4" fill="#76503a"/><rect x="239.34" y="330.0" width="10.99" height="26.4" fill="#88562f"/><rect x="250.33" y="330.0" width="10.99" height="26.4" fill="#985a2c"/><rect x="261.32" y="330.0" width="10.99" height="26.4" fill="#ac6428"/><rect x="272.31" y="330.0" width="10.99" height="26.4" fill="#bf6a26"/><rect x="283.30" y="330.0" width="10.99" height="26.4" fill="#cc7a2c"/><rect x="294.29" y="330.0" width="10.99" height="26.4" fill="#d8922c"/><rect x="305.28" y="330.0" width="10.99" height="26.4" fill="#dca82a"/><rect x="316.27" y="330.0" width="10.99" height="26.4" fill="#e0b828"/><rect x="327.26" y="330.0" width="10.99" height="26.4" fill="#e8cc30"/><rect x="338.24" y="330.0" width="10.99" height="26.4" fill="#f2e232"/><rect x="349.23" y="330.0" width="10.99" height="26.4" fill="#e4e430"/><rect x="360.22" y="330.0" width="10.99" height="26.4" fill="#a8c030"/><rect x="371.21" y="330.0" width="10.99" height="26.4" fill="#68a030"/><rect x="382.20" y="330.0" width="10.99" height="26.4" fill="#349030"/><rect x="393.19" y="330.0" width="10.99" height="26.4" fill="#3a8e30"/><rect x="404.18" y="330.0" width="10.99" height="26.4" fill="#2e8a48"/><rect x="415.17" y="330.0" width="10.99" height="26.4" fill="#3c9690"/><rect x="426.16" y="330.0" width="10.99" height="26.4" fill="#3c98d0"/><rect x="437.14" y="330.0" width="10.99" height="26.4" fill="#3c92e0"/><rect x="448.13" y="330.0" width="10.99" height="26.4" fill="#2286d6"/><rect x="459.12" y="330.0" width="10.99" height="26.4" fill="#3064b4"/><rect x="470.11" y="330.0" width="10.99" height="26.4" fill="#2c3c8c"/><rect x="481.10" y="330.0" width="10.99" height="26.4" fill="#2c2070"/><rect x="492.09" y="330.0" width="10.99" height="26.4" fill="#2c1e78"/><rect x="503.08" y="330.0" width="10.99" height="26.4" fill="#301e70"/><rect x="514.07" y="330.0" width="10.99" height="26.4" fill="#3e1e6e"/><rect x="525.06" y="330.0" width="10.99" height="26.4" fill="#521e70"/><rect x="536.04" y="330.0" width="10.99" height="26.4" fill="#621c72"/><rect x="547.03" y="330.0" width="10.99" height="26.4" fill="#7a1c6e"/><rect x="558.02" y="330.0" width="10.99" height="26.4" fill="#801c70"/><rect x="569.01" y="330.0" width="10.99" height="26.4" fill="#821c6c"/>
<path d="M195.39 330.0V356.4M206.38 330.0V356.4M217.37 330.0V356.4M228.36 330.0V356.4M239.34 330.0V356.4M250.33 330.0V356.4M261.32 330.0V356.4M272.31 330.0V356.4M283.30 330.0V356.4M294.29 330.0V356.4M305.28 330.0V356.4M316.27 330.0V356.4M327.26 330.0V356.4M338.24 330.0V356.4M349.23 330.0V356.4M360.22 330.0V356.4M371.21 330.0V356.4M382.20 330.0V356.4M393.19 330.0V356.4M404.18 330.0V356.4M415.17 330.0V356.4M426.16 330.0V356.4M437.14 330.0V356.4M448.13 330.0V356.4M459.12 330.0V356.4M470.11 330.0V356.4M481.10 330.0V356.4M492.09 330.0V356.4M503.08 330.0V356.4M514.07 330.0V356.4M525.06 330.0V356.4M536.04 330.0V356.4M547.03 330.0V356.4M558.02 330.0V356.4M569.01 330.0V356.4" stroke="#111" stroke-width="1.4" fill="none"/>
<rect x="184.4" y="330.0" width="395.6" height="26.4" fill="none" stroke="#111" stroke-width="1.4"/>
<g fill="#111" font-size="18.5"><text x="179.25" y="385.0" text-anchor="middle" textLength="27.5" lengthAdjust="spacingAndGlyphs">-0.5</text><text x="233.90" y="385.0" text-anchor="middle" textLength="9.4" lengthAdjust="spacingAndGlyphs">0</text><text x="285.20" y="385.0" text-anchor="middle" textLength="22.2" lengthAdjust="spacingAndGlyphs">0.5</text><text x="340.00" y="385.0" text-anchor="middle" textLength="7.6" lengthAdjust="spacingAndGlyphs">1</text><text x="392.45" y="385.0" text-anchor="middle" textLength="21.9" lengthAdjust="spacingAndGlyphs">1.5</text><text x="447.10" y="385.0" text-anchor="middle" textLength="10.0" lengthAdjust="spacingAndGlyphs">2</text><text x="497.55" y="385.0" text-anchor="middle" textLength="23.3" lengthAdjust="spacingAndGlyphs">2.5</text><text x="553.10" y="385.0" text-anchor="middle" textLength="9.0" lengthAdjust="spacingAndGlyphs">3</text></g>
<text x="245.6" y="421.4" font-size="21" fill="#111" textLength="208.5" lengthAdjust="spacingAndGlyphs">resistivity log10 [Ohmm]</text>
</svg>
</body></html>
